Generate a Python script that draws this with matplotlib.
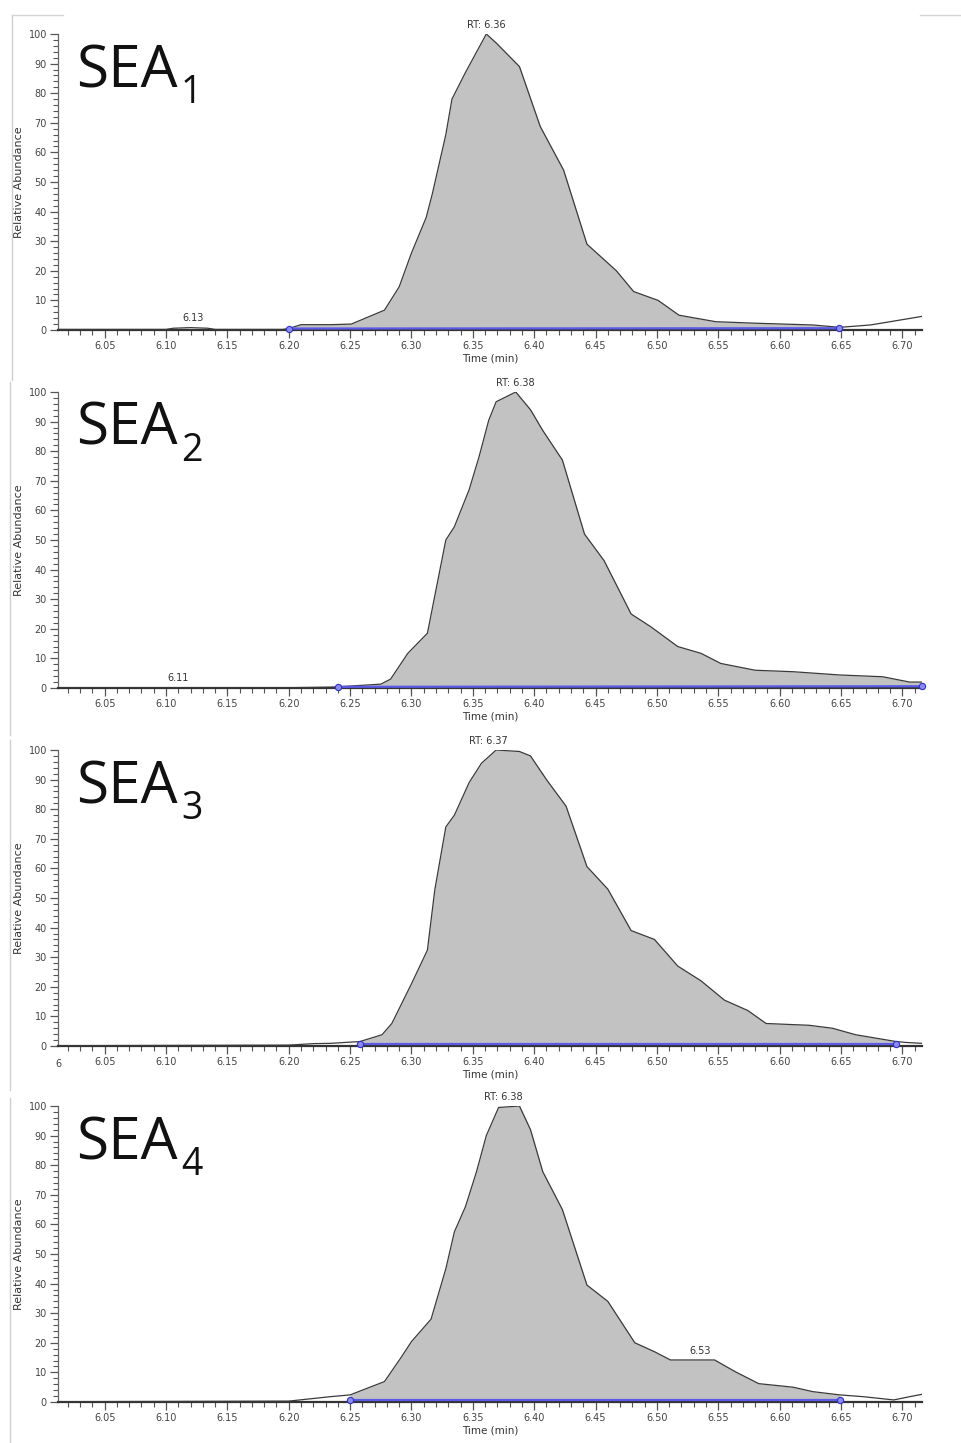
import matplotlib
matplotlib.use("Agg")
import matplotlib.pyplot as plt
from matplotlib.ticker import MultipleLocator, FormatStrFormatter
from matplotlib.lines import Line2D

# ---------------- data ----------------
title_main = ["SEA", "SEA", "SEA", "SEA"]
title_sub = ["1", "2", "3", "4"]

t1 = [6.012, 6.10, 6.106, 6.12, 6.134, 6.14, 6.195, 6.20, 6.21, 6.234, 6.251, 6.278, 6.290, 6.300,
      6.312, 6.317, 6.328, 6.333, 6.344, 6.361, 6.369, 6.388, 6.405, 6.424, 6.443, 6.467, 6.481,
      6.501, 6.518, 6.548, 6.580, 6.627, 6.649, 6.674, 6.690, 6.716]
a1 = [0.2, 0.2, 0.6, 0.8, 0.6, 0.2, 0.2, 0.5, 1.8, 1.8, 2.0, 6.7, 14.6, 26, 38, 46, 66, 78, 87,
      100, 97, 89, 68.7, 54, 29, 20, 13, 10, 5, 2.8, 2.3, 1.7, 0.9, 1.7, 2.8, 4.6]

t2 = [6.012, 6.20, 6.234, 6.240, 6.275, 6.283, 6.297, 6.313, 6.328, 6.335, 6.347, 6.355, 6.363,
      6.369, 6.385, 6.397, 6.407, 6.423, 6.441, 6.457, 6.479, 6.495, 6.517, 6.536, 6.552, 6.580,
      6.611, 6.649, 6.684, 6.706, 6.716]
a2 = [0.1, 0.1, 0.3, 0.4, 1.3, 3, 11.7, 18.5, 50, 54.5, 67, 78, 90.5, 96.7, 100, 94, 87, 77, 52,
      43, 25, 20.7, 14, 11.7, 8.3, 6, 5.5, 4.4, 3.8, 2, 2]

t3 = [6.012, 6.20, 6.22, 6.234, 6.258, 6.276, 6.284, 6.300, 6.313, 6.319, 6.328, 6.335, 6.347,
      6.357, 6.369, 6.388, 6.397, 6.410, 6.426, 6.443, 6.460, 6.479, 6.498, 6.517, 6.536, 6.555,
      6.574, 6.589, 6.624, 6.643, 6.662, 6.695, 6.703, 6.716]
a3 = [0.1, 0.3, 0.8, 0.9, 1.5, 3.8, 7.6, 21, 32.4, 52.7, 74, 78, 89, 95.5, 100, 99.5, 98, 90, 81,
      60.6, 53, 39, 36, 27, 22, 15.5, 12, 7.6, 7, 6, 3.8, 1.5, 1.2, 0.9]

t4 = [6.012, 6.20, 6.234, 6.250, 6.278, 6.291, 6.300, 6.316, 6.328, 6.335, 6.344, 6.353, 6.361,
      6.371, 6.388, 6.397, 6.407, 6.423, 6.443, 6.460, 6.482, 6.498, 6.511, 6.523, 6.547, 6.564,
      6.583, 6.611, 6.627, 6.649, 6.668, 6.693, 6.706, 6.716]
a4 = [0.1, 0.3, 1.8, 2.4, 6.9, 14.7, 20.4, 28, 45, 57.5, 66, 77.8, 90, 99.5, 100, 92, 77.8, 65,
      39.5, 34, 20, 17, 14.2, 14.2, 14.2, 10.2, 6.2, 5, 3.5, 2.4, 1.8, 0.7, 1.8, 2.6]

times = [t1, t2, t3, t4]
abund = [a1, a2, a3, a4]

# integration window (start, end) of each peak
peak_start = [6.20, 6.24, 6.258, 6.25]
peak_end = [6.648, 6.716, 6.695, 6.649]

# peak annotations: (time, abundance, text)
labels = [
    [(6.361, 100, "RT: 6.36"), (6.122, 0.8, "6.13")],
    [(6.385, 100, "RT: 6.38"), (6.11, 0.2, "6.11")],
    [(6.363, 100, "RT: 6.37")],
    [(6.375, 100, "RT: 6.38"), (6.535, 14.2, "6.53")],
]

xmin, xmax = 6.012, 6.716

# ---------------- figure ----------------
W, H = 962, 1443
fig = plt.figure(figsize=(W / 100, H / 100), dpi=100)

ax_left, ax_right = 58, 922
panel_tops = [34, 392, 750, 1106]
panel_h = 296

def interp(t, a, x):
    for i in range(len(t) - 1):
        if t[i] <= x <= t[i + 1]:
            f = (x - t[i]) / (t[i + 1] - t[i])
            return a[i] + f * (a[i + 1] - a[i])
    return a[-1]

# faint screenshot borders
for (x, y0, y1) in [(12, 15, 380), (10, 382, 735), (10, 740, 1090), (10, 1098, 1443)]:
    fig.add_artist(Line2D([x / W, x / W], [1 - y0 / H, 1 - y1 / H], color="#cfcfcf", lw=1))
fig.add_artist(Line2D([12 / W, 63 / W], [1 - 15 / H, 1 - 15 / H], color="#d5d5d5", lw=1))
fig.add_artist(Line2D([920 / W, 962 / W], [1 - 15 / H, 1 - 15 / H], color="#d5d5d5", lw=1))

tick_col = "#444444"
for i in range(4):
    top = panel_tops[i]
    ax = fig.add_axes([ax_left / W, 1 - (top + panel_h) / H, (ax_right - ax_left) / W, panel_h / H])
    t, a = times[i], abund[i]
    s, e = peak_start[i], peak_end[i]

    # shaded integrated area
    ts = [s] + [x for x in t if s < x < e] + [e]
    as_ = [interp(t, a, x) for x in ts]
    ax.fill_between(ts, 0, as_, color="#c2c2c2", lw=0, zorder=1)
    ax.plot(t, a, color="#3a3a3a", lw=0.9, zorder=3)

    # baseline
    ys, ye = min(interp(t, a, s), 0.6), min(interp(t, a, e), 0.6)
    ax.plot([s, e], [ys, ye], color="#5a5ae6", lw=1.6, zorder=4, solid_capstyle="butt")
    ax.plot([s, e], [ys, ye], ls="none", marker="o", ms=4.5, mfc="#8a8af0", mec="#3030d0",
            mew=0.8, zorder=5, clip_on=False)

    for (lx, ly, txt) in labels[i]:
        ax.text(lx, ly + 1.5, txt, ha="center", va="bottom", fontsize=7, color="#333333",
                clip_on=False, zorder=6)

    ax.set_xlim(xmin, xmax)
    ax.set_ylim(0, 100)
    ax.xaxis.set_major_locator(MultipleLocator(0.05))
    ax.xaxis.set_minor_locator(MultipleLocator(0.01))
    ax.xaxis.set_major_formatter(FormatStrFormatter("%.2f"))
    ax.yaxis.set_major_locator(MultipleLocator(10))
    ax.yaxis.set_minor_locator(MultipleLocator(2))
    ax.tick_params(axis="both", which="major", length=6, width=0.9, color="#555555",
                   labelsize=7, labelcolor=tick_col, pad=2)
    ax.tick_params(axis="both", which="minor", length=3.5, width=0.8, color="#555555")
    for sp in ("top", "right"):
        ax.spines[sp].set_visible(False)
    ax.spines["left"].set_color("#666666")
    ax.spines["left"].set_linewidth(0.9)
    ax.spines["bottom"].set_color("#333333")
    ax.spines["bottom"].set_linewidth(1.6)
    ax.patch.set_alpha(0)

    if i == 2:
        ax.text(xmin, -0.045, "6", transform=ax.get_xaxis_transform(), ha="center", va="top",
                fontsize=7, color=tick_col)

    ax.set_xlabel("Time (min)", fontsize=7.5, color="#333333", labelpad=2)
    ax.set_ylabel("Relative Abundance", fontsize=8, color="#333333", labelpad=3)

    ax.text(76 / W, 1 - (top + 53) / H, title_main[i], transform=fig.transFigure, fontsize=42,
            family="Open Sans", color="#111111", ha="left", va="baseline")
    ax.text(181 / W, 1 - (top + 69) / H, title_sub[i], transform=fig.transFigure, fontsize=27,
            family="Open Sans", color="#111111", ha="left", va="baseline")

fig.savefig("out.png", dpi=100)
